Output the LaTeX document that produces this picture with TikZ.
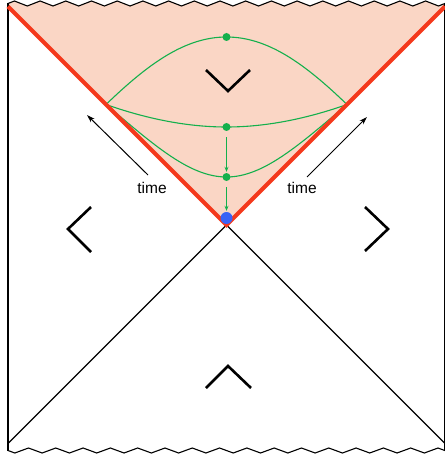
\documentclass[tikz,border=0pt]{standalone}
\usepackage{fontspec}
\setmainfont{Liberation Sans}
\usetikzlibrary{decorations.pathmorphing,arrows.meta}
\definecolor{pdFill}{HTML}{FAD6C5}
\definecolor{pdRed}{HTML}{F4391C}
\definecolor{pdGreen}{HTML}{14B04C}
\definecolor{pdBlue}{HTML}{3A63F6}
\begin{document}
\begin{tikzpicture}[x=1pt,y=-1pt,
 edge/.style={black,line width=1.1pt},
 sing/.style={edge,decorate,decoration={zigzag,amplitude=2.5pt,segment length=#1}},
 bsing/.style={edge,decorate,decoration={zigzag,mirror,amplitude=2.5pt,segment length=#1}},
 horizon/.style={pdRed,line width=4pt,line join=miter},
 slice/.style={pdGreen,line width=1.1pt},
 gdot/.style={circle,fill=pdGreen,inner sep=0pt,minimum size=8pt},
 flow/.style={pdGreen,line width=1pt,-{Stealth[length=5pt,width=4pt]}},
 chev/.style={black,line width=2.6pt},
 tarrow/.style={black,line width=1pt,-{Stealth[length=8pt,width=5pt]}},
 lbl/.style={font=\fontsize{15.5}{18}\selectfont,inner sep=0pt}]
\useasboundingbox (0,0) rectangle (444,457);
\coordinate (C) at (226.5,225);
\coordinate (TL) at (8,6.5);\coordinate (TR) at (445,6.5);
\coordinate (BL) at (8,443.5);\coordinate (BR) at (445,443.5);
% black hole interior
\fill[pdFill] (8,3.5) decorate[decoration={zigzag,amplitude=2.5pt,segment length=25.7pt}]{-- (445,3.5)} -- (TR) -- (C) -- (TL) -- cycle;
\draw[edge] (8,3.5) -- (8,450.5);\draw[edge] (445,3.5) -- (445,450.5);
\draw[sing=25.7pt] (8,3.5) -- (445,3.5);
\draw[bsing=27.3pt] (8,450.5) -- (445,450.5);
\draw[edge] (BL) -- (C) -- (BR);
% slices
\coordinate (A) at (106,104.5);\coordinate (B) at (347,104.5);
\draw[slice] (A) .. controls (148,64) and (185,37) .. (226.5,37) .. controls (268,37) and (305,64) .. (B);
\draw[slice] (A) .. controls (150,120) and (190,127) .. (226.5,127) .. controls (263,127) and (303,120) .. (B);
\draw[slice] (A) .. controls (155,146) and (190,177) .. (226.5,177) .. controls (263,177) and (298,146) .. (B);
\draw[horizon] (TL) -- (C) -- (TR);
\node[gdot] (s1) at (226.5,37) {};
\node[gdot] (s2) at (226.5,127) {};
\node[gdot] (s3) at (226.5,177) {};
\node[circle,fill=pdBlue,inner sep=0pt,minimum size=12pt] (bif) at (226.5,218) {};
\draw[flow,shorten <=6pt,shorten >=1pt] (s2) -- (s3);
\draw[flow,shorten <=6pt,shorten >=1pt] (s3) -- (bif);
% time arrows
\coordinate (la0) at (148,175);\coordinate (la1) at (87,115);
\coordinate (ra0) at (307,177);\coordinate (ra1) at (367,117);
\draw[tarrow] (la0) -- (la1);\draw[tarrow] (ra0) -- (ra1);
\node[lbl] (tl) at (152,188) {time};
\node[lbl] (tr) at (302,188) {time};
% chevrons
\draw[chev] (206,70) -- (228,91) -- (250,70);
\draw[chev] (91,207) -- (68,229) -- (91,252);
\draw[chev] (365,207) -- (388,229) -- (365,251);
\draw[chev] (206,388) -- (228,366) -- (251,388);
\end{tikzpicture}
\end{document}
